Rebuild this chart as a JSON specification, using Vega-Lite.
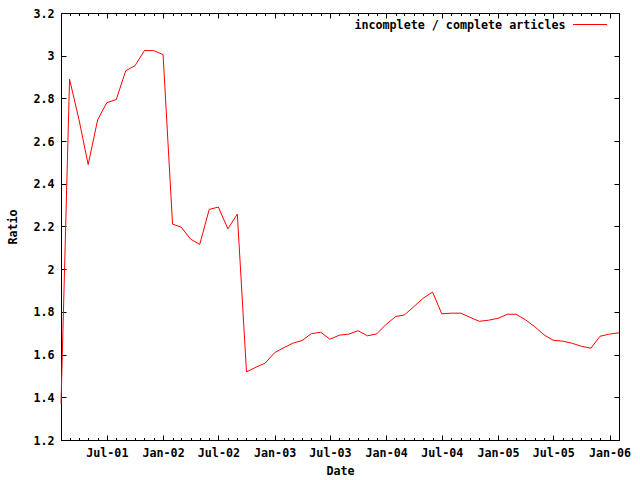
{
  "$schema": "https://vega.github.io/schema/vega-lite/v6.json",
  "width": 558,
  "height": 427,
  "autosize": {"type": "none"},
  "padding": {"left": 61, "top": 13, "right": 21, "bottom": 40},
  "background": "white",
  "config": {
    "view": {"stroke": null},
    "axis": {
      "domainColor": "black", "tickColor": "black", "labelColor": "black", "titleColor": "black",
      "labelFont": "DejaVu Sans Mono", "titleFont": "DejaVu Sans Mono",
      "labelFontSize": 11.7, "titleFontSize": 11.7,
      "labelFontWeight": "bold", "titleFontWeight": "bold",
      "grid": false, "domainWidth": 1, "tickWidth": 1
    }
  },
  "data": {
    "values": [
      {"date": "2001-02-01T00:00:00", "ratio": 1.37},
      {"date": "2001-03-01T00:00:00", "ratio": 2.89},
      {"date": "2001-04-01T00:00:00", "ratio": 2.70},
      {"date": "2001-05-01T00:00:00", "ratio": 2.49},
      {"date": "2001-06-01T00:00:00", "ratio": 2.70},
      {"date": "2001-07-01T00:00:00", "ratio": 2.78},
      {"date": "2001-08-01T00:00:00", "ratio": 2.795},
      {"date": "2001-09-01T00:00:00", "ratio": 2.93},
      {"date": "2001-10-01T00:00:00", "ratio": 2.953},
      {"date": "2001-11-01T00:00:00", "ratio": 3.024},
      {"date": "2001-12-01T00:00:00", "ratio": 3.024},
      {"date": "2002-01-01T00:00:00", "ratio": 3.005},
      {"date": "2002-02-01T00:00:00", "ratio": 2.211},
      {"date": "2002-03-01T00:00:00", "ratio": 2.197},
      {"date": "2002-04-01T00:00:00", "ratio": 2.141},
      {"date": "2002-05-01T00:00:00", "ratio": 2.116},
      {"date": "2002-06-01T00:00:00", "ratio": 2.28},
      {"date": "2002-07-01T00:00:00", "ratio": 2.291},
      {"date": "2002-08-01T00:00:00", "ratio": 2.189},
      {"date": "2002-09-01T00:00:00", "ratio": 2.258},
      {"date": "2002-10-01T00:00:00", "ratio": 1.519},
      {"date": "2002-11-01T00:00:00", "ratio": 1.541},
      {"date": "2002-12-01T00:00:00", "ratio": 1.56},
      {"date": "2003-01-01T00:00:00", "ratio": 1.609},
      {"date": "2003-02-01T00:00:00", "ratio": 1.633},
      {"date": "2003-03-01T00:00:00", "ratio": 1.653},
      {"date": "2003-04-01T00:00:00", "ratio": 1.666},
      {"date": "2003-05-01T00:00:00", "ratio": 1.698},
      {"date": "2003-06-01T00:00:00", "ratio": 1.705},
      {"date": "2003-07-01T00:00:00", "ratio": 1.672},
      {"date": "2003-08-01T00:00:00", "ratio": 1.691},
      {"date": "2003-09-01T00:00:00", "ratio": 1.696},
      {"date": "2003-10-01T00:00:00", "ratio": 1.712},
      {"date": "2003-11-01T00:00:00", "ratio": 1.688},
      {"date": "2003-12-01T00:00:00", "ratio": 1.697},
      {"date": "2004-01-01T00:00:00", "ratio": 1.742},
      {"date": "2004-02-01T00:00:00", "ratio": 1.778},
      {"date": "2004-03-01T00:00:00", "ratio": 1.786},
      {"date": "2004-04-01T00:00:00", "ratio": 1.825},
      {"date": "2004-05-01T00:00:00", "ratio": 1.864},
      {"date": "2004-06-01T00:00:00", "ratio": 1.893},
      {"date": "2004-07-01T00:00:00", "ratio": 1.791},
      {"date": "2004-08-01T00:00:00", "ratio": 1.794},
      {"date": "2004-09-01T00:00:00", "ratio": 1.794},
      {"date": "2004-10-01T00:00:00", "ratio": 1.775},
      {"date": "2004-11-01T00:00:00", "ratio": 1.756},
      {"date": "2004-12-01T00:00:00", "ratio": 1.761},
      {"date": "2005-01-01T00:00:00", "ratio": 1.77},
      {"date": "2005-02-01T00:00:00", "ratio": 1.789},
      {"date": "2005-03-01T00:00:00", "ratio": 1.789},
      {"date": "2005-04-01T00:00:00", "ratio": 1.763},
      {"date": "2005-05-01T00:00:00", "ratio": 1.731},
      {"date": "2005-06-01T00:00:00", "ratio": 1.692},
      {"date": "2005-07-01T00:00:00", "ratio": 1.667},
      {"date": "2005-08-01T00:00:00", "ratio": 1.663},
      {"date": "2005-09-01T00:00:00", "ratio": 1.653},
      {"date": "2005-10-01T00:00:00", "ratio": 1.639},
      {"date": "2005-11-01T00:00:00", "ratio": 1.63},
      {"date": "2005-12-01T00:00:00", "ratio": 1.686},
      {"date": "2006-01-01T00:00:00", "ratio": 1.696},
      {"date": "2006-02-01T00:00:00", "ratio": 1.702}
    ]
  },
  "encoding": {
    "x": {"field": "date", "type": "temporal",
      "scale": {"domain": [{"year": 2001, "month": "feb", "date": 1}, {"year": 2006, "month": "feb", "date": 1}], "nice": false}},
    "y": {"field": "ratio", "type": "quantitative",
      "scale": {"domain": [1.2, 3.2], "nice": false, "zero": false}}
  },
  "layer": [
    {
      "mark": {"type": "line", "strokeWidth": 1, "interpolate": "linear"},
      "encoding": {
        "x": {"field": "date", "type": "temporal",
          "axis": {"orient": "bottom", "title": "Date", "format": "%b-%y",
            "tickCount": {"interval": "month", "step": 6},
            "tickSize": -5, "labelPadding": 12, "titlePadding": 7,
            "labelFlush": false, "labelOverlap": false}},
        "y": {"field": "ratio", "type": "quantitative",
          "axis": {"orient": "left", "title": "Ratio",
            "values": [1.2, 1.4, 1.6, 1.8, 2, 2.2, 2.4, 2.6, 2.8, 3, 3.2],
            "format": "~g",
            "tickSize": -5, "labelPadding": 12, "titlePadding": 14}},
        "color": {"datum": "incomplete / complete articles", "type": "nominal",
          "scale": {"range": ["#ff0000"]},
          "legend": {"orient": "none", "legendX": 504, "legendY": -6, "title": null,
            "symbolType": "stroke", "symbolSize": 1156, "symbolStrokeWidth": 1,
            "labelAlign": "right", "labelOffset": -42, "symbolOffset": 7.5, "labelLimit": 0,
            "labelFont": "DejaVu Sans Mono", "labelFontSize": 11.7, "labelFontWeight": "bold",
            "labelColor": "black", "padding": 0}}
      }
    },
    {
      "mark": {"type": "line", "strokeOpacity": 0},
      "encoding": {
        "x": {"field": "date", "type": "temporal",
          "axis": {"orient": "top", "title": null, "labels": false,
            "tickCount": {"interval": "month", "step": 6}, "tickSize": -5}},
        "y": {"field": "ratio", "type": "quantitative",
          "axis": {"orient": "right", "title": null, "labels": false,
            "values": [1.2, 1.4, 1.6, 1.8, 2, 2.2, 2.4, 2.6, 2.8, 3, 3.2], "tickSize": -5}}
      }
    },
    {
      "mark": {"type": "line", "strokeOpacity": 0},
      "encoding": {
        "x": {"field": "date", "type": "temporal",
          "axis": {"orient": "bottom", "title": null, "labels": false, "domain": false,
            "tickCount": {"interval": "month", "step": 1}, "tickSize": -2.5}},
        "y": {"field": "ratio", "type": "quantitative", "axis": null}
      }
    },
    {
      "mark": {"type": "line", "strokeOpacity": 0},
      "encoding": {
        "x": {"field": "date", "type": "temporal",
          "axis": {"orient": "top", "title": null, "labels": false, "domain": false,
            "tickCount": {"interval": "month", "step": 1}, "tickSize": -2.5}},
        "y": {"field": "ratio", "type": "quantitative", "axis": null}
      }
    }
  ],
  "resolve": {"axis": {"x": "independent", "y": "independent"}}
}
